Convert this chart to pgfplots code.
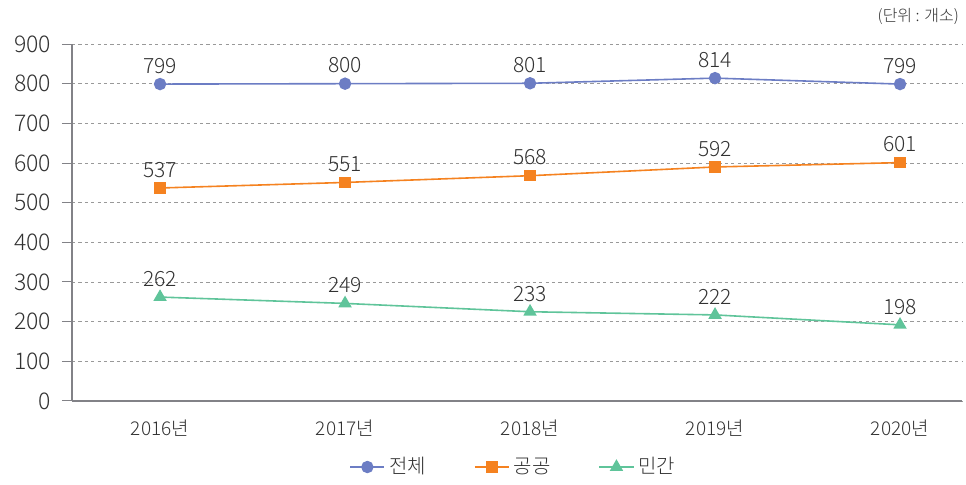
\documentclass[border=0pt]{standalone}
\usepackage{pgfplots}
\pgfplotsset{compat=1.18}
\usepackage{fontspec}
\setmainfont{Noto Sans CJK KR}[UprightFont={* Light}]
\definecolor{cblue}{RGB}{108,125,196}
\definecolor{corange}{RGB}{245,130,32}
\definecolor{cgreen}{RGB}{95,196,154}
\definecolor{ctext}{RGB}{50,50,50}
\definecolor{caxis}{RGB}{130,130,135}
\begin{document}
\begin{tikzpicture}
\begin{axis}[
  scale only axis,
  width=445pt, height=178.5pt,
  xmin=-0.476, xmax=4.335,
  ymin=0, ymax=900,
  ytick={0,100,...,900},
  xtick={0,1,2,3,4},
  xticklabels={2016년,2017년,2018년,2019년,2020년},
  /pgf/number format/assume math mode=true,
  axis x line*=bottom, axis y line*=left,
  axis line style={-, draw=caxis, line width=1pt},
  x tick style={draw=none},
  y tick style={draw=caxis, line width=0.5pt},
  tick align=outside,
  major tick length=5pt,
  ymajorgrids,
  grid style={dash pattern=on 1.6pt off 1.6pt, draw=gray!80, line width=0.4pt},
  yticklabel style={font=\fontsize{11.5}{13}\selectfont, text=ctext, xshift=-2pt},
  xticklabel style={font=\fontsize{9.5}{11}\selectfont, text=ctext, yshift=-1pt},
  nodes near coords,
  nodes near coords style={font=\fontsize{10.5}{12}\selectfont, text=ctext, anchor=south, yshift=1.5pt},
  point meta=explicit symbolic,
  legend columns=3,
  legend style={at={(0.497,-0.185)}, anchor=center, draw=none, fill=none,
    font=\fontsize{10}{11}\selectfont, text=ctext,
    /tikz/every even column/.append style={column sep=22pt}},
  legend cell align=left,
  clip=false,
]
\addplot[cblue, line width=0.8pt, mark=*, mark size=2.7pt, mark options={fill=cblue, draw=cblue}]
  coordinates {(0,799)[799] (1,800)[800] (2,801)[801] (3,814)[814] (4,799)[799]};
\addlegendentry{전체}
\addplot[corange, line width=0.8pt, mark=square*, mark size=2.5pt, mark options={fill=corange, draw=corange}]
  coordinates {(0,537)[537] (1,551)[551] (2,568)[568] (3,590)[592] (4,601)[601]};
\addlegendentry{공공}
\addplot[cgreen, line width=0.8pt, mark=triangle*, mark size=3.1pt, mark options={fill=cgreen, draw=cgreen}]
  coordinates {(0,262)[262] (1,246)[249] (2,225)[233] (3,217)[222] (4,192)[198]};
\addlegendentry{민간}
\end{axis}
\node[anchor=east, font=\fontsize{8}{9}\selectfont, text=ctext] at (447pt,192.5pt) {(단위 : 개소)};
\path[use as bounding box] (-36pt,-35.5pt) rectangle (447pt,200.5pt);
\end{tikzpicture}
\end{document}
